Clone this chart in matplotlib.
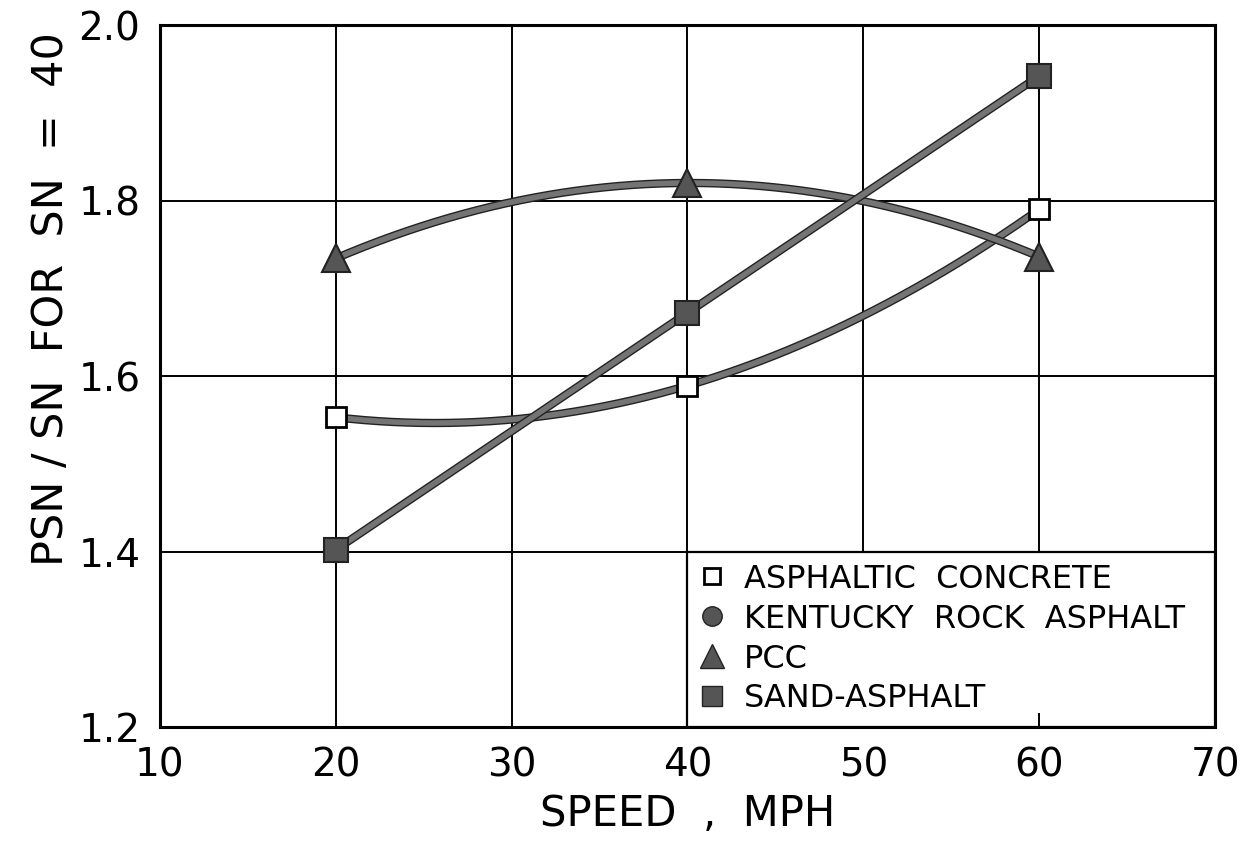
import numpy as np
import matplotlib
matplotlib.use("Agg")
import matplotlib.pyplot as plt
from matplotlib.lines import Line2D
import matplotlib.patheffects as pe

plt.rcParams['font.family'] = ['DejaVu Sans']

# data
speed = [20, 40, 60]
asphaltic = [1.553, 1.589, 1.790]
pcc = [1.734, 1.820, 1.736]
sand = [1.402, 1.672, 1.942]

xticks = [10, 20, 30, 40, 50, 60, 70]
yticks = [1.2, 1.4, 1.6, 1.8, 2.0]

legend_names = ["ASPHALTIC  CONCRETE", "KENTUCKY  ROCK  ASPHALT", "PCC", "SAND-ASPHALT"]

line_col = "#747474"
fill_col = "#555555"
fx = [pe.Stroke(linewidth=6.0, foreground="#222222"), pe.Normal()]

fig = plt.figure(figsize=(12.58, 8.43), dpi=100)
ax = fig.add_axes([0.127, 0.1376, 0.839, 0.8327])

# smooth curves drawn through the three points (as hand drawn on original)
xs = np.linspace(speed[0], speed[-1], 200)
for ys in [asphaltic, pcc]:
    c = np.polyfit(speed, ys, 2)
    ax.plot(xs, np.polyval(c, xs), color=line_col, lw=4, path_effects=fx,
            solid_capstyle="round", zorder=3)
ax.plot(speed, sand, color=line_col, lw=4, path_effects=fx,
        solid_capstyle="round", zorder=3)

ax.plot(speed, asphaltic, ls="none", marker="s", ms=14, mfc="white",
        mec="black", mew=2, zorder=4)
ax.plot(speed, pcc, ls="none", marker="^", ms=20, mfc=fill_col,
        mec="#222222", mew=1.5, zorder=4)
ax.plot(speed, sand, ls="none", marker="s", ms=17, mfc=fill_col,
        mec="#222222", mew=1.5, zorder=4)

ax.set_xlim(10, 70)
ax.set_ylim(1.2, 2.0)
ax.set_xticks(xticks)
ax.set_yticks(yticks)
ax.set_xticklabels([str(t) for t in xticks])
ax.set_yticklabels(["%.1f" % t for t in yticks])
ax.tick_params(length=0, labelsize=28, pad=14)
ax.grid(True, color="black", lw=1.4)
ax.set_axisbelow(True)
for s in ax.spines.values():
    s.set_linewidth(2.2)

ax.set_xlabel("SPEED  ,  MPH", fontsize=30, labelpad=6)
ax.set_ylabel("PSN / SN  FOR  SN  =  40", fontsize=31)
ax.yaxis.set_label_coords(-0.083, 0.61)

handles = [
    Line2D([], [], ls="none", marker="s", ms=12, mfc="white", mec="black", mew=2),
    Line2D([], [], ls="none", marker="o", ms=14, mfc=fill_col, mec="#222222"),
    Line2D([], [], ls="none", marker="^", ms=17, mfc=fill_col, mec="#222222"),
    Line2D([], [], ls="none", marker="s", ms=14, mfc=fill_col, mec="#222222"),
]
leg = ax.legend(handles, legend_names, loc="upper left",
                bbox_to_anchor=(40, 1.2, 30, 0.2), bbox_transform=ax.transData,
                mode="expand", borderaxespad=0, fontsize=23, fancybox=False,
                framealpha=1, edgecolor="black", handlelength=0.8,
                handletextpad=0.6, labelspacing=0.28, borderpad=0.38)
leg.get_frame().set_linewidth(1.6)

# little tick left inside the legend box at 60 mph
ax.axvline(60, ymin=0, ymax=0.018, color="black", lw=1.4, zorder=6)

fig.savefig("out.png", dpi=100)
